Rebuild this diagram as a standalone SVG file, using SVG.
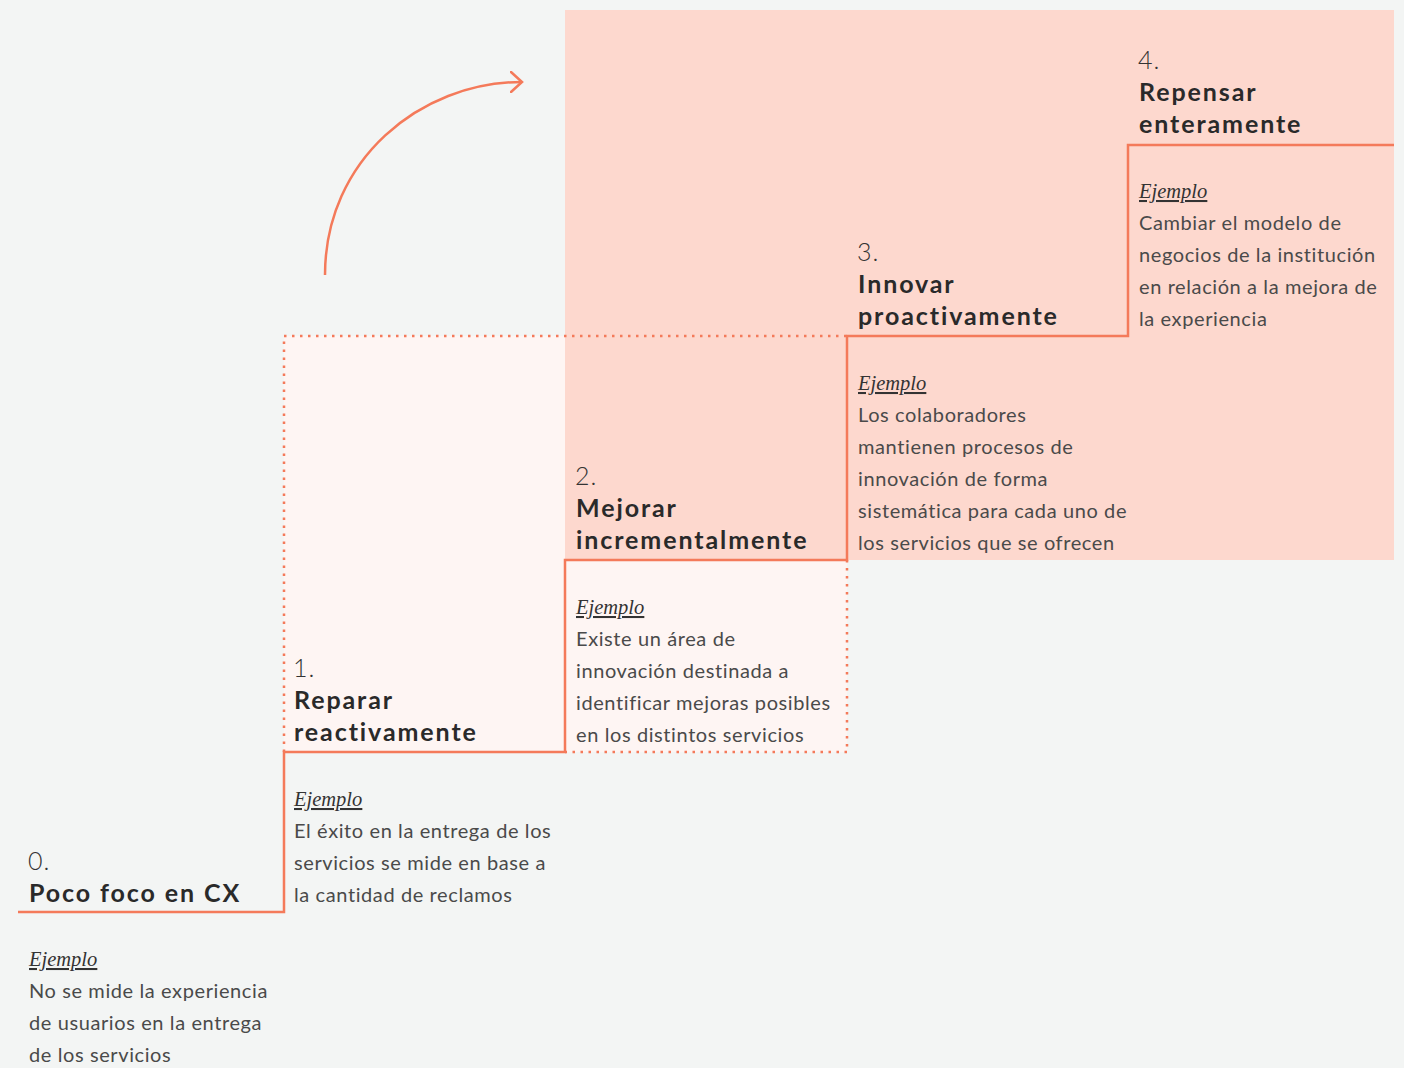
<svg xmlns="http://www.w3.org/2000/svg" width="1404" height="1068" viewBox="0 0 1404 1068">
  <style>
    .num { font-family: Lato, "Liberation Sans", sans-serif; font-size: 25px; font-weight: 300; fill: #333; letter-spacing: 1px; }
    .title { font-family: Lato, "Liberation Sans", sans-serif; font-size: 25px; font-weight: 700; fill: #2a2a2a; letter-spacing: 1.9px; }
    .ej { font-family: "Liberation Serif", serif; font-size: 20.5px; font-style: italic; fill: #333; text-decoration: underline; }
    .body { font-family: Lato, "Liberation Sans", sans-serif; font-size: 20px; fill: #4a4a4a; letter-spacing: 0.6px; }
    .step { fill: none; stroke: #f47a5a; stroke-width: 2.5; }
    .dots { fill: none; stroke: #f47a5a; stroke-width: 2.5; stroke-dasharray: 2.5 5.5; }
  </style>
  <defs>
    <marker id="chevron" viewBox="0 0 14 22" refX="12" refY="11" markerWidth="14" markerHeight="22" markerUnits="userSpaceOnUse" orient="auto">
      <path d="M1,1 L12,11 L1,21" fill="none" stroke="#f47a5a" stroke-width="2.5" stroke-linecap="round"/>
    </marker>
  </defs>

  <!-- page background -->
  <rect x="0" y="0" width="1404" height="1068" fill="#f3f5f4"/>

  <!-- shaded areas -->
  <rect x="565" y="10" width="829" height="550" fill="#fdd8ce"/>
  <path d="M284,336 H565 V560 H847 V752 H284 Z" fill="#fef5f3"/>

  <!-- connectors: staircase outline, dotted frame and growth arrow -->
  <g id="connectors">
    <path class="dots" d="M284,752 V336 H847"/>
    <path class="dots" d="M847,560 V752 H565"/>
    <path class="step" d="M18,912 H284 V752 H565 V560 H847 V336 H1128 V145 H1394"/>
    <path d="M325,275 C325,160 420,82 522,82" fill="none" stroke="#f47a5a" stroke-width="2.5" marker-end="url(#chevron)"/>
  </g>

  <!-- step 0 -->
  <g id="step0">
    <text class="num" x="28" y="870">0.</text>
    <text class="title" x="29" y="902">Poco foco en CX</text>
    <text class="ej" x="29" y="966">Ejemplo</text>
    <text class="body" x="29" y="998">No se mide la experiencia</text>
    <text class="body" x="29" y="1030">de usuarios en la entrega</text>
    <text class="body" x="29" y="1062">de los servicios</text>
  </g>

  <!-- step 1 -->
  <g id="step1">
    <text class="num" x="293" y="677">1.</text>
    <text class="title" x="294" y="709">Reparar</text>
    <text class="title" x="294" y="741">reactivamente</text>
    <text class="ej" x="294" y="806">Ejemplo</text>
    <text class="body" x="294" y="838">El éxito en la entrega de los</text>
    <text class="body" x="294" y="870">servicios se mide en base a</text>
    <text class="body" x="294" y="902">la cantidad de reclamos</text>
  </g>

  <!-- step 2 -->
  <g id="step2">
    <text class="num" x="575" y="485">2.</text>
    <text class="title" x="576" y="517">Mejorar</text>
    <text class="title" x="576" y="549">incrementalmente</text>
    <text class="ej" x="576" y="614">Ejemplo</text>
    <text class="body" x="576" y="646">Existe un área de</text>
    <text class="body" x="576" y="678">innovación destinada a</text>
    <text class="body" x="576" y="710">identificar mejoras posibles</text>
    <text class="body" x="576" y="742">en los distintos servicios</text>
  </g>

  <!-- step 3 -->
  <g id="step3">
    <text class="num" x="857" y="261">3.</text>
    <text class="title" x="858" y="293">Innovar</text>
    <text class="title" x="858" y="325">proactivamente</text>
    <text class="ej" x="858" y="390">Ejemplo</text>
    <text class="body" x="858" y="422">Los colaboradores</text>
    <text class="body" x="858" y="454">mantienen procesos de</text>
    <text class="body" x="858" y="486">innovación de forma</text>
    <text class="body" x="858" y="518">sistemática para cada uno de</text>
    <text class="body" x="858" y="550">los servicios que se ofrecen</text>
  </g>

  <!-- step 4 -->
  <g id="step4">
    <text class="num" x="1138" y="69">4.</text>
    <text class="title" x="1139" y="101">Repensar</text>
    <text class="title" x="1139" y="133">enteramente</text>
    <text class="ej" x="1139" y="198">Ejemplo</text>
    <text class="body" x="1139" y="230">Cambiar el modelo de</text>
    <text class="body" x="1139" y="262">negocios de la institución</text>
    <text class="body" x="1139" y="294">en relación a la mejora de</text>
    <text class="body" x="1139" y="326">la experiencia</text>
  </g>
</svg>
